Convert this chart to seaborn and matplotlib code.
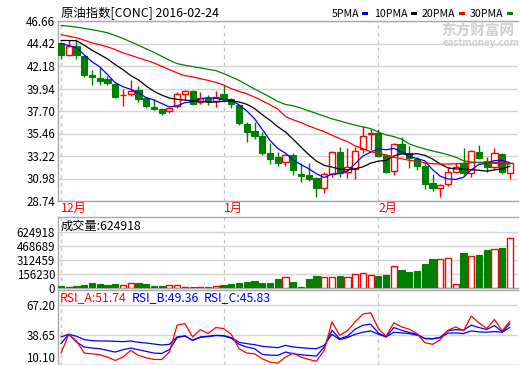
import numpy as np
import pandas as pd
import matplotlib
matplotlib.use("Agg")
import matplotlib.pyplot as plt
from matplotlib.patches import Rectangle
import seaborn as sns

# ---------------- data ----------------
opens = [44.42, 43.29, 44.22, 43.22, 41.32, 41.02, 40.92, 40.42, 39.25, 39.39,
         39.82, 38.99, 38.12, 37.92, 37.69, 38.15, 39.39, 39.72, 38.55, 38.99,
         38.65, 39.42, 38.89, 38.25, 36.39, 35.72, 35.22, 33.49, 33.12, 32.59,
         33.32, 31.42, 31.32, 31.02, 30.02, 31.39, 33.59, 31.62, 31.89, 33.89,
         35.39, 35.49, 33.32, 31.75, 34.42, 33.49, 32.89, 32.25, 30.52, 29.99,
         30.39, 31.59, 32.55, 31.49, 33.59, 32.75, 32.15, 33.42, 31.55]
highs = [44.50, 44.75, 44.82, 43.25, 41.82, 42.05, 41.15, 40.49, 39.89, 40.82,
         40.22, 39.09, 38.89, 37.99, 38.09, 39.55, 39.82, 39.82, 39.59, 39.32,
         39.72, 40.32, 38.95, 38.32, 36.59, 36.59, 35.59, 34.49, 33.65, 33.39,
         33.55, 32.49, 32.49, 31.15, 31.65, 33.72, 34.09, 34.05, 34.12, 36.22,
         35.92, 35.89, 33.39, 34.49, 35.09, 34.25, 33.09, 32.65, 31.42, 30.39,
         32.15, 32.55, 33.99, 33.82, 34.32, 33.15, 34.05, 33.55, 32.49]
lows = [42.92, 43.15, 42.89, 41.09, 40.32, 40.25, 40.25, 39.02, 38.15, 39.22,
        38.55, 37.99, 37.82, 37.35, 37.49, 37.99, 38.82, 38.32, 38.35, 38.25,
        38.09, 38.82, 37.99, 36.29, 34.59, 34.92, 33.32, 32.39, 32.25, 32.25,
        31.29, 30.65, 30.75, 29.09, 29.55, 31.15, 31.15, 30.99, 30.95, 33.49,
        33.85, 33.09, 31.49, 31.32, 33.49, 31.99, 31.82, 29.89, 29.75, 29.09,
        30.25, 31.49, 31.32, 31.09, 32.89, 31.59, 31.92, 31.42, 30.89]
closes = [43.25, 44.22, 43.25, 41.25, 41.05, 40.72, 40.45, 39.12, 39.28, 39.72,
          38.92, 38.15, 37.92, 37.55, 38.02, 39.42, 39.72, 38.39, 38.95, 38.65,
          39.09, 38.92, 38.39, 36.49, 35.65, 35.25, 33.55, 32.89, 32.55, 33.29,
          31.82, 31.25, 30.89, 29.99, 31.39, 33.59, 31.49, 32.09, 33.69, 35.22,
          35.49, 33.22, 31.59, 34.39, 33.55, 33.05, 32.25, 30.45, 29.99, 30.32,
          31.59, 32.12, 31.49, 33.72, 32.99, 32.15, 33.49, 31.62, 32.49]

ma5 = [44.42, 44.22, 43.99, 43.30, 42.60, 42.10, 41.34, 40.52, 40.12, 39.86,
       39.50, 39.04, 38.80, 38.45, 38.11, 38.21, 38.53, 38.62, 38.90, 39.03,
       38.96, 38.80, 38.80, 38.31, 37.71, 36.94, 35.87, 34.77, 33.98, 33.51,
       32.82, 32.36, 31.96, 31.45, 31.07, 31.42, 31.47, 31.71, 32.45, 33.22,
       33.60, 33.94, 33.84, 33.98, 33.65, 33.16, 32.97, 32.74, 31.86, 31.21,
       30.92, 30.89, 31.10, 31.85, 32.38, 32.49, 32.77, 32.79, 32.55]
ma10 = [44.72, 44.72, 44.69, 44.25, 43.75, 43.32, 42.89, 42.32, 41.82, 41.23,
        40.80, 40.19, 39.66, 39.29, 38.99, 38.86, 38.78, 38.71, 38.68, 38.57,
        38.59, 38.66, 38.71, 38.60, 38.37, 37.95, 37.33, 36.78, 36.14, 35.61,
        34.88, 34.11, 33.36, 32.71, 32.29, 32.12, 31.92, 31.84, 31.95, 32.14,
        32.51, 32.71, 32.78, 33.22, 33.43, 33.38, 33.45, 33.29, 32.92, 32.43,
        32.04, 31.93, 31.92, 31.85, 31.80, 31.71, 31.83, 31.95, 32.20]
ma20 = [45.29, 45.15, 44.99, 44.75, 44.49, 44.29, 44.09, 43.82, 43.49, 43.25,
        42.99, 42.75, 42.49, 42.15, 41.82, 41.49, 41.22, 41.09, 40.92, 40.75,
        40.55, 40.29, 39.92, 39.65, 39.42, 39.09, 38.72, 38.32, 37.89, 37.15,
        36.82, 36.55, 36.22, 35.92, 35.65, 35.29, 34.95, 34.65, 34.22, 33.95,
        33.65, 33.49, 33.32, 33.09, 32.95, 32.79, 32.69, 32.55, 32.45, 32.42,
        32.42, 32.45, 32.49, 32.55, 32.59, 32.59, 32.59, 32.55, 32.49]
ma30 = [46.22, 46.15, 46.05, 45.92, 45.79, 45.65, 45.49, 45.22, 44.92, 44.59,
        44.25, 43.89, 43.55, 43.15, 42.75, 42.42, 42.25, 42.12, 41.99, 41.85,
        41.72, 41.42, 41.09, 40.75, 40.32, 39.89, 39.49, 39.09, 38.65, 38.35,
        38.22, 37.99, 37.72, 37.45, 37.19, 36.92, 36.72, 36.49, 36.29, 36.12,
        35.95, 35.59, 35.32, 35.15, 34.89, 34.42, 34.15, 33.92, 33.72, 33.55,
        33.35, 33.09, 32.75, 32.62, 32.55, 32.52, 32.49, 32.45, 32.42]

volume = [25700, 14700, 25700, 36800, 58800, 47800, 36800, 47800, 33000, 55000,
          58800, 44000, 25700, 25700, 33000, 33000, 14700, 14700, 14700, 14700,
          25700, 36800, 47800, 58800, 69800, 80900, 58800, 58800, 103000, 121000,
          69800, 14700, 103000, 136000, 121000, 121000, 136000, 121000, 154000, 165000,
          143000, 136000, 147000, 243000, 202000, 180000, 191000, 268000, 320000, 323000,
          331000, 44000, 390000, 353000, 368000, 423000, 434000, 441000, 551000]

rsi_a = [21.07, 39.10, 32.68, 21.07, 20.42, 19.45, 17.20, 13.97, 17.20, 23.65,
         18.81, 16.55, 14.93, 14.93, 22.00, 47.80, 49.40, 36.50, 43.60, 39.80,
         45.60, 44.60, 39.10, 25.30, 21.07, 20.40, 15.60, 12.36, 11.40, 17.20,
         21.07, 17.20, 14.93, 13.30, 23.65, 51.07, 38.16, 42.37, 51.07, 58.50,
         59.78, 44.60, 37.20, 50.10, 46.20, 43.97, 39.80, 31.07, 29.45, 33.97,
         43.00, 46.20, 42.37, 56.55, 50.10, 44.60, 53.30, 42.37, 51.74]
rsi_b = [30.10, 39.13, 31.70, 26.87, 25.90, 25.26, 23.65, 22.04, 24.29, 25.90,
         24.29, 22.68, 21.07, 20.74, 24.29, 35.90, 37.52, 33.33, 36.23, 36.88,
         37.84, 37.52, 35.26, 29.45, 26.87, 25.26, 19.78, 19.13, 18.81, 22.04,
         20.42, 19.45, 18.81, 18.16, 26.87, 43.00, 34.94, 37.20, 43.97, 47.84,
         48.81, 40.42, 36.55, 45.58, 43.00, 40.75, 39.13, 34.94, 34.62, 36.23,
         42.36, 43.65, 43.00, 47.84, 45.58, 43.65, 47.52, 41.39, 49.36]
rsi_c = [36.55, 39.10, 37.20, 33.97, 33.00, 32.68, 32.68, 32.36, 32.03, 32.68,
         31.39, 30.75, 29.78, 28.81, 29.45, 36.55, 37.52, 33.33, 36.55, 37.20,
         38.16, 37.84, 35.90, 31.39, 30.10, 29.13, 27.52, 26.87, 26.23, 28.49,
         26.87, 26.23, 25.58, 25.26, 28.49, 39.13, 33.97, 35.90, 39.13, 41.07,
         42.36, 39.13, 36.55, 41.07, 40.42, 39.78, 38.16, 35.26, 34.94, 35.91,
         40.10, 40.42, 39.78, 42.36, 41.39, 41.07, 41.72, 41.07, 45.83]

month_labels = ["12月", "1月", "2月"]
month_pos = [0, 21, 41]
price_ticks = [28.74, 30.98, 33.22, 35.46, 37.70, 39.94, 42.18, 44.42, 46.66]
vol_ticks = [0, 156230, 312459, 468689, 624918]
rsi_ticks = [10.10, 38.65, 67.20]
title = "原油指数[CONC] 2016-02-24"
ma_names = ["5PMA", "10PMA", "20PMA", "30PMA"]
vol_label = "成交量:624918"
rsi_labels = ["RSI_A:51.74", "RSI_B:49.36", "RSI_C:45.83"]

# ---------------- styling ----------------
sns.set_theme(style="white")
plt.rcParams['font.family'] = ['Noto Sans CJK SC', 'DejaVu Sans']
W, H = 520, 365
fig = plt.figure(figsize=(W / 100, H / 100), dpi=100)
fig.patch.set_facecolor("white")

RED = "#ff0000"
GREEN = "#008000"
BLUE = "#0000ff"
GRID = "#d4d4d4"
SPINE = "#a8a8a8"
FS = 8.3


def rect(x0, y0, x1, y1):
    return [x0 / W, 1 - y1 / H, (x1 - x0) / W, (y1 - y0) / H]


def fx(x):
    return x / W


def fy(y):
    return 1 - y / H


XLIM = (-0.39, 59.04)
idx = np.arange(len(closes))
df = pd.DataFrame({"i": idx, "open": opens, "high": highs, "low": lows,
                   "close": closes, "ma5": ma5, "ma10": ma10, "ma20": ma20,
                   "ma30": ma30, "vol": volume, "rsi_a": rsi_a,
                   "rsi_b": rsi_b, "rsi_c": rsi_c})
df["up"] = df["close"] >= df["open"]


def style_axes(ax):
    ax.set_facecolor("white")
    for s in ["left", "top", "bottom"]:
        ax.spines[s].set_color(SPINE)
        ax.spines[s].set_linewidth(1.0)
    ax.spines["right"].set_visible(False)
    ax.tick_params(axis="both", length=0, pad=2, labelsize=FS, colors="black")
    ax.set_xlim(*XLIM)
    for p in month_pos:
        ax.axvline(p, color="#c4c4c4", lw=0.9, ls=(0, (3, 3)), zorder=0)


# ---------------- main price panel ----------------
ax = fig.add_axes(rect(58, 21, 518, 201))
style_axes(ax)
ax.set_ylim(28.74, 46.66)
ax.set_yticks(price_ticks)
ax.set_yticklabels([f"{t:.2f}" for t in price_ticks])
ax.grid(axis="y", color=GRID, lw=1.0, zorder=0)
ax.set_xticks(month_pos)
ax.set_xticklabels(month_labels, color=RED, ha="left", fontsize=FS + 0.5)
ax.tick_params(axis="x", pad=1)

bw = 0.8
for _, r in df.iterrows():
    i = r["i"]
    o, h, l, c = r["open"], r["high"], r["low"], r["close"]
    top, bot = max(o, c), min(o, c)
    if r["up"]:
        ax.vlines(i, top, h, color=RED, lw=1.0, zorder=3)
        ax.vlines(i, l, bot, color=RED, lw=1.0, zorder=3)
        ax.add_patch(Rectangle((i - bw / 2, bot), bw, max(top - bot, 0.02),
                               facecolor="white", edgecolor=RED, lw=1.0, zorder=3))
    else:
        ax.vlines(i, l, h, color=GREEN, lw=1.0, zorder=3)
        ax.add_patch(Rectangle((i - bw / 2, bot), bw, max(top - bot, 0.02),
                               facecolor=GREEN, edgecolor=GREEN, lw=0.8, zorder=3))

for col, colr in zip(["ma5", "ma10", "ma20", "ma30"], [BLUE, "black", RED, GREEN]):
    sns.lineplot(data=df, x="i", y=col, ax=ax, color=colr, lw=0.9, zorder=4,
                 legend=False)
ax.set_xlabel("")
ax.set_ylabel("")
ax.set_xlim(*XLIM)

# ---------------- volume panel ----------------
axv = fig.add_axes(rect(58, 217, 518, 288.3))
style_axes(axv)
vtop = 624918 * (288.3 - 217) / (288.3 - 231.7)
axv.set_ylim(0, vtop)
axv.set_yticks(vol_ticks)
axv.set_yticklabels([str(t) for t in vol_ticks])
axv.grid(axis="y", color=GRID, lw=1.0, zorder=0)
axv.set_xticks([])
for _, r in df.iterrows():
    if r["up"]:
        axv.add_patch(Rectangle((r["i"] - bw / 2, 0), bw, r["vol"],
                                facecolor="white", edgecolor=RED, lw=1.0, zorder=3))
    else:
        axv.add_patch(Rectangle((r["i"] - bw / 2, 0), bw, r["vol"],
                                facecolor=GREEN, edgecolor=GREEN, lw=0.8, zorder=3))
axv.text(0.005, 1 - 9.5 / 71.3, vol_label, transform=axv.transAxes,
         ha="left", va="center", fontsize=FS + 0.5, color="black")

# ---------------- RSI panel ----------------
axr = fig.add_axes(rect(58, 289.5, 518, 364.5))
style_axes(axr)
rtop = 67.20 + (305 - 289.5) * (67.20 - 10.10) / (364.5 - 305)
axr.set_ylim(10.10, rtop)
axr.set_yticks(rsi_ticks)
axr.set_yticklabels([f"{t:.2f}" for t in rsi_ticks])
axr.get_yticklabels()[0].set_va("bottom")
axr.grid(axis="y", color=GRID, lw=1.0, zorder=0)
axr.set_xticks([])
for col, colr in zip(["rsi_c", "rsi_b", "rsi_a"], [BLUE, BLUE, RED]):
    sns.lineplot(data=df, x="i", y=col, ax=axr, color=colr, lw=0.9, zorder=4,
                 legend=False)
axr.set_xlabel("")
axr.set_ylabel("")
axr.set_xlim(*XLIM)
for lab, xp, colr in zip(rsi_labels, [60, 131.5, 204], [RED, BLUE, BLUE]):
    fig.text(fx(xp), fy(298), lab, ha="left", va="center", fontsize=FS + 0.5,
             color=colr)

# ---------------- header: title, legend, watermark ----------------
fig.text(fx(61), fy(13.5), title, ha="left", va="center", fontsize=FS + 0.6,
         color="black")
fig.text(fx(441), fy(31), "东方财富网", ha="left", va="center", fontsize=10.5,
         color="#cfcfcf", fontweight="bold")
fig.text(fx(443), fy(43), "eastmoney.com", ha="left", va="center", fontsize=7,
         color="#cfcfcf", fontweight="bold")

fig.canvas.draw()
renderer = fig.canvas.get_renderer()
leg_x = [331.5, 374.5, 422, 470]
for name, tx, colr in zip(ma_names, leg_x, [BLUE, "black", RED, GREEN]):
    t = fig.text(fx(tx), fy(14), name, ha="left", va="center", fontsize=7.6,
                 color="black")
    bb = t.get_window_extent(renderer=renderer)
    dx = bb.x1 + 3
    fig.patches.append(Rectangle((dx / W, fy(15)), 6 / W, 2.5 / H,
                                 transform=fig.transFigure, facecolor=colr,
                                 edgecolor="none"))

fig.savefig("out.png", dpi=100, facecolor="white")
